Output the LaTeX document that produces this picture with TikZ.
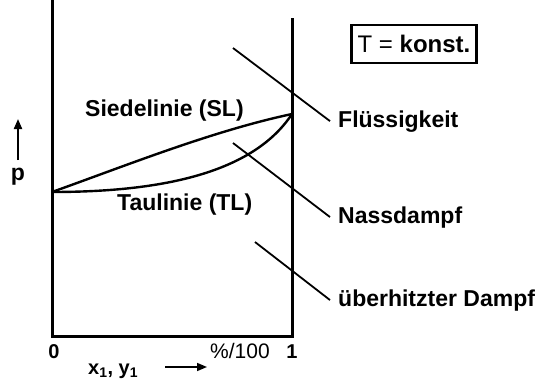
\documentclass[tikz,border=0pt]{standalone}
\usepackage{fontspec}
\setmainfont{Liberation Sans}
\usetikzlibrary{arrows.meta, positioning}

\tikzset{
  lbl/.style={font=\bfseries\fontsize{23}{23}\selectfont, inner sep=0pt},
  num/.style={font=\bfseries\fontsize{20}{20}\selectfont, inner sep=0pt, anchor=base},
  region/.style={lbl, anchor=base west, inner xsep=8pt},
  leader/.style={line width=1.8pt},
  axis/.style={line width=3pt},
}

\begin{document}
\begin{tikzpicture}[x=1pt,y=-1pt]
\useasboundingbox (0,0) rectangle (544,381);
% frame of the diagram
\draw [axis] (52,0) -- (52,336) -- (292,336) -- (292,18);
\coordinate (start) at (52,192);
\coordinate (top)   at (292,114);
% Siedelinie and Taulinie
\draw [line width=2.4pt] (start) .. controls (125,166) and (212,131) .. (top);
\draw [line width=2.4pt] (start) .. controls (170,192) and (255,170) .. (top);
\node [lbl, anchor=base west] (sl) at (85,116) {Siedelinie (SL)};
\node [lbl, anchor=base west] (tl) at (117,210) {Taulinie (TL)};
% regions
\node [region] (fl) at (330,127) {Flüssigkeit};
\node [region] (nd) at (330,223) {Nassdampf};
\node [region] (ud) at (330,306) {überhitzter Dampf};
\coordinate (fl0) at (233,48);
\coordinate (nd0) at (233,143);
\coordinate (ud0) at (255,242);
\draw [leader] (fl0) -- (fl.west);
\draw [leader] (nd0) -- (nd.west);
\draw [leader] (ud0) -- (ud.west);
% box
\node [draw, line width=2.5pt, minimum width=125pt, minimum height=38pt,
       font=\fontsize{24}{24}\selectfont] (tk) at (414,44) {T = \textbf{konst.}};
% axis labels
\node [lbl, anchor=base] (p) at (18,180) {p};
\coordinate (ptip) at (18,119);
\draw [line width=2pt, -{Triangle[length=10pt,width=8pt]}] (18,160) -- (ptip);
\node [num] (n0) at (54,358) {0};
\node [num, font=\fontsize{21}{21}\selectfont] (n100) at (240,358) {\%/100};
\node [num] (n1) at (292,358) {1};
\node [font=\bfseries\fontsize{20}{20}\selectfont, inner sep=0pt, anchor=base west] (xy) at (88,374) {x\textsubscript{1}, y\textsubscript{1}};
\coordinate (xtip) at (207,367);
\draw [line width=1.6pt, -{Triangle[length=10pt,width=8pt]}] (165,367) -- (xtip);
\end{tikzpicture}
\end{document}
